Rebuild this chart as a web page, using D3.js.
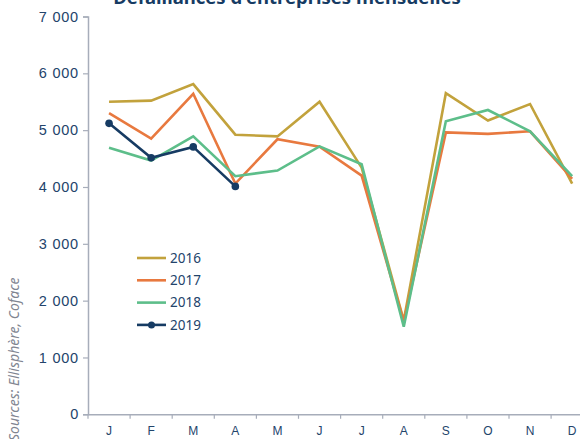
<!DOCTYPE html>
<meta charset="utf-8">
<title>Défaillances d'entreprises mensuelles</title>
<style>
    body { margin: 0; background: #fff; }
    svg { display: block; font-family: "Noto Sans", sans-serif; }
</style>
<script src="https://d3js.org/d3.v7.js"></script>
<body>
<script>
    // months + yearly series
    const months = ["J", "F", "M", "A", "M", "J", "J", "A", "S", "O", "N", "D"];
    const years = ["2016", "2017", "2018", "2019"];
    const colors = ["#c2a23c", "#e8793f", "#5dbe8a", "#163b63"];
    const v2016 = [5500, 5520, 5810, 4920, 4890, 5500, 4340, 1650, 5650, 5170, 5460, 4060];
    const v2017 = [5300, 4850, 5640, 4060, 4840, 4710, 4200, 1630, 4960, 4935, 4980, 4145];
    const v2018 = [4690, 4465, 4890, 4190, 4290, 4715, 4400, 1540, 5155, 5355, 4980, 4190];
    const v2019 = [5120, 4515, 4705, 4010];
    const yTicks = [0, 1000, 2000, 3000, 4000, 5000, 6000, 7000];

    const series = [v2016, v2017, v2018, v2019];

    const width = 580, height = 439;
    const margin = { left: 88, top: 16.5, bottom: 24.7 };
    const plotH = height - margin.top - margin.bottom;

    const svg = d3.select("body").append("svg")
        .attr("width", width)
        .attr("height", height);

    const x = d3.scaleBand()
        .domain(d3.range(12))
        .range([margin.left, margin.left + 12 * 42.1]);

    const y = d3.scaleLinear()
        .domain([0, 7000])
        .range([margin.top + plotH, margin.top]);

    const axisColor = "#a7adba";
    const textColor = "#23446b";

    // title (cut off at the top, as in the source)
    svg.append("text")
        .attr("x", 287)
        .attr("y", 4)
        .attr("text-anchor", "middle")
        .style("font-size", "18.5px")
        .style("font-weight", "bold")
        .style("fill", "#163b63")
        .text("Défaillances d'entreprises mensuelles");

    // y axis
    const fmt = d => d3.format(",")(d).replace(",", " ");
    const gy = svg.append("g")
        .attr("transform", `translate(${margin.left},0)`)
        .call(d3.axisLeft(y).tickValues(yTicks).tickFormat(fmt).tickSize(5).tickPadding(4));
    gy.select(".domain").attr("stroke", axisColor).attr("stroke-width", 1.5);
    gy.selectAll(".tick line").attr("stroke", axisColor).attr("stroke-width", 1.2);
    gy.selectAll(".tick text")
        .style("font-size", "14.5px")
        .style("letter-spacing", "0.8px")
        .style("fill", textColor);

    // x axis
    const gx = svg.append("g")
        .attr("transform", `translate(0,${y(0)})`)
        .call(d3.axisBottom(x).tickFormat(i => months[i]).tickSize(0).tickPadding(12.5));
    gx.select(".domain").attr("stroke", axisColor).attr("stroke-width", 1.5);
    gx.selectAll(".tick text")
        .style("font-size", "12px")
        .style("fill", textColor);
    // separator ticks between months
    gx.selectAll(".sep")
        .data(d3.range(12))
        .join("line")
        .attr("x1", i => x(i)).attr("x2", i => x(i))
        .attr("y1", 0).attr("y2", 4.5)
        .attr("stroke", axisColor)
        .attr("stroke-width", 1.2);

    const line = d3.line()
        .x((d, i) => x(i) + x.bandwidth() / 2)
        .y(d => y(d));

    series.forEach((s, k) => {
        svg.append("path")
            .datum(s)
            .attr("d", line)
            .attr("fill", "none")
            .attr("stroke", colors[k])
            .attr("stroke-width", 2.6)
            .attr("stroke-linejoin", "miter");
    });

    // 2019 markers
    svg.selectAll(".dot19")
        .data(v2019)
        .join("circle")
        .attr("cx", (d, i) => x(i) + x.bandwidth() / 2)
        .attr("cy", d => y(d))
        .attr("r", 3.8)
        .attr("fill", colors[3]);

    // legend
    const legend = svg.append("g").attr("transform", "translate(137,258)");
    years.forEach((yr, k) => {
        const g = legend.append("g").attr("transform", `translate(0,${k * 22.3})`);
        g.append("line")
            .attr("x1", 0).attr("x2", 29)
            .attr("stroke", colors[k])
            .attr("stroke-width", 2.6);
        if (k === 3) {
            g.append("circle").attr("cx", 14.5).attr("r", 3.5).attr("fill", colors[k]);
        }
        g.append("text")
            .attr("x", 33)
            .attr("dy", "0.36em")
            .style("font-size", "13.5px")
            .style("fill", textColor)
            .text(yr);
    });

    // source note
    svg.append("text")
        .attr("transform", "translate(19,441) rotate(-90)")
        .style("font-size", "14px")
        .style("font-style", "italic")
        .style("fill", "#7f8591")
        .text("Sources: Ellisphère, Coface");
</script>
</body>
